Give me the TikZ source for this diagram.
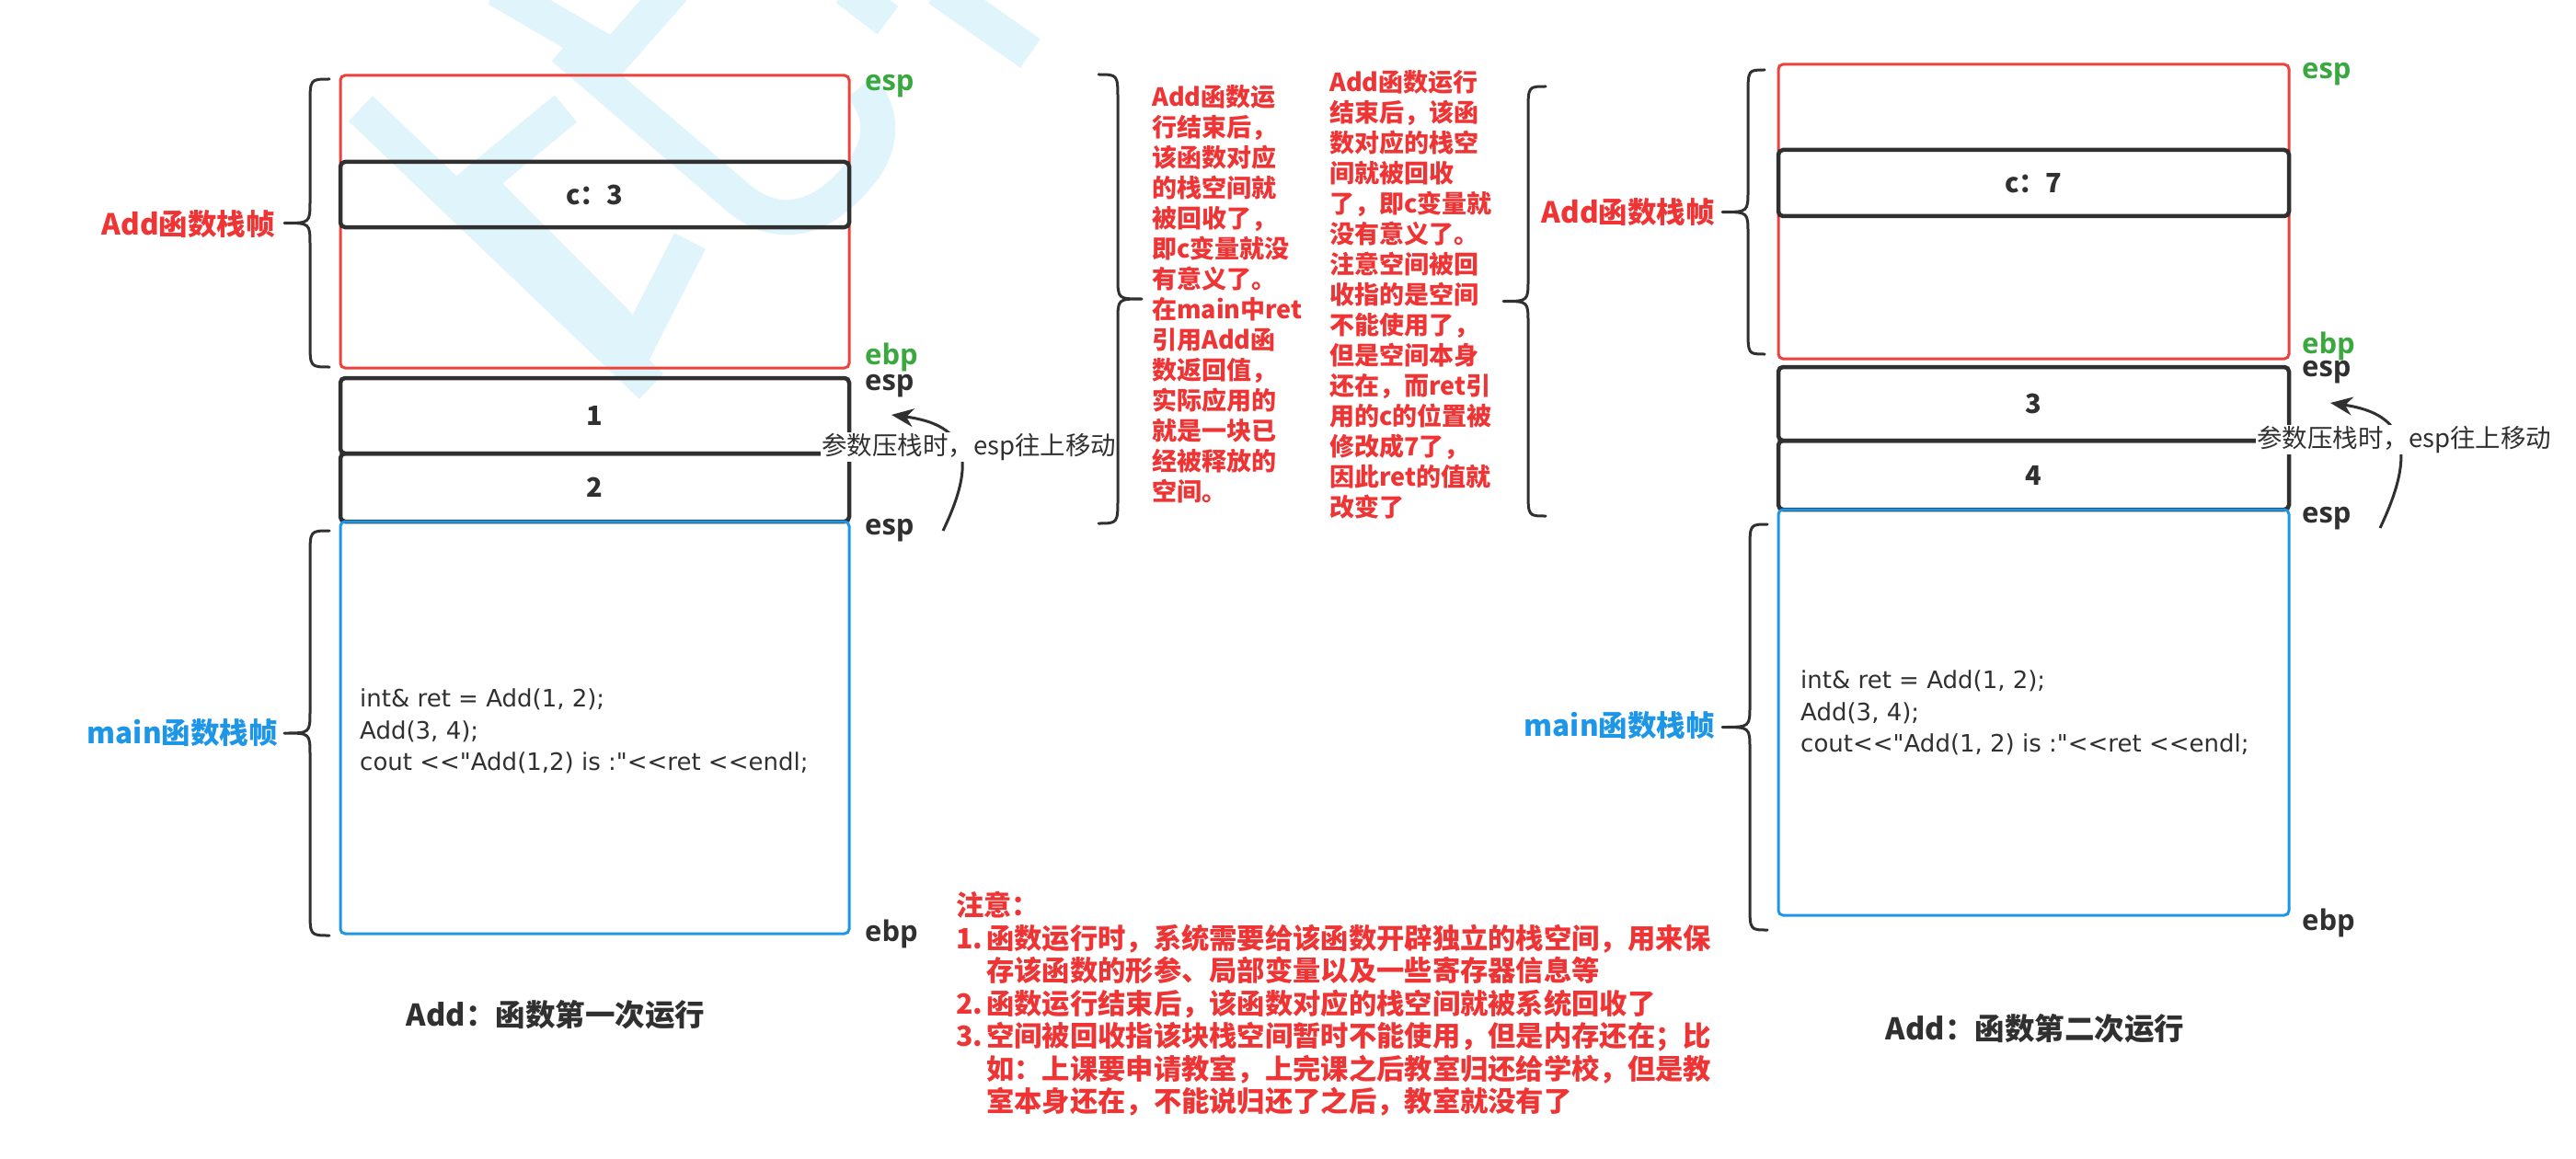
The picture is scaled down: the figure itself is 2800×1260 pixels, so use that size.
\documentclass[tikz,border=0pt]{standalone}
\usepackage{fontspec}
\setmainfont{Noto Sans CJK SC}
\newfontfamily\latinfont{Open Sans}[Ligatures=TeXOff]
\newfontfamily\codefont{DejaVu Sans}[Ligatures=TeXOff]
\usetikzlibrary{arrows.meta}
\definecolor{cred}{RGB}{238,52,52}
\definecolor{cframe}{RGB}{236,66,60}
\definecolor{cgreen}{RGB}{58,168,62}
\definecolor{cblue}{RGB}{30,150,232}
\definecolor{cdark}{RGB}{48,48,48}
\definecolor{cwm}{RGB}{224,244,251}
\newcommand\fsz[2]{\fontsize{#1}{#2}\selectfont}
\newcommand\mybrace[5]{%
  \pgfmathsetmacro\ym{(#4+#5)/2}%
  \draw[bracestyle] (#1,#4) .. controls (#2,#4) .. (#2,#4+28) -- (#2,\ym-24)
    .. controls (#2,\ym) .. (#3,\ym) .. controls (#2,\ym) .. (#2,\ym+24)
    -- (#2,#5-28) .. controls (#2,#5) .. (#1,#5);}
\tikzset{
  fbox/.style={draw, rounded corners=5pt, inner sep=0pt, outer sep=0pt},
  redframe/.style={fbox, draw=cframe, line width=3pt},
  blkbox/.style={fbox, draw=cdark, line width=4.5pt, text=cdark, font=\fsz{29}{34}\bfseries},
  blueframe/.style={fbox, draw=cblue, line width=3pt},
  framelab/.style={anchor=east, inner sep=0pt, font=\fsz{31.5}{34}\bfseries},
  reglab/.style={anchor=west, inner sep=0pt, font=\latinfont\fsz{31}{34}\bfseries},
  bracestyle/.style={draw=cdark, line width=3pt, line cap=round, line join=round},
  codetext/.style={anchor=north west, align=left, inner sep=0pt, text=cdark, font=\codefont\fsz{26}{34.5}},
  caption/.style={inner sep=0pt, text=cdark, font=\fsz{32.5}{38}\bfseries},
  rednote/.style={anchor=north west, align=left, inner sep=0pt, text=cred, font=\fsz{27}{33}\bfseries},
  movelab/.style={anchor=west, fill=white, inner sep=1pt, text=cdark, font=\fsz{27.5}{30}},
  movearrow/.style={draw=cdark, line width=3pt, -{Stealth[length=24pt,width=20pt]}},
  wm/.style={draw=cwm, line width=38pt}
}
\begin{document}
\begin{tikzpicture}[x=1pt,y=-1pt]
\useasboundingbox (0,0) rectangle (2800,1260);
\fill[white] (0,0) rectangle (2800,1260);
% watermark
\draw[wm] (392,118) -- (708,420);
\draw[wm] (540,-12) -- (667,62) -- (732,-12);
\draw[wm] (612,52) -- (800,213) .. controls (845,252) and (892,240) .. (932,192) .. controls (962,158) and (960,122) .. (936,94);
\draw[wm] (615,118) -- (518,198) -- (693,374) -- (750,262);
\draw[wm] (920,-12) -- (965,22);
\draw[wm] (1020,-12) -- (1120,58);

% ===== left diagram =====
\node[redframe, minimum width=553pt, minimum height=318pt] (lred) at (646.5,241) {};
\node[blkbox, minimum width=553pt, minimum height=71pt] (lc) at (646.5,211.5) {c：3};
\node[blkbox, minimum width=553pt, minimum height=82pt] (l1) at (646.5,452) {1};
\node[blkbox, minimum width=553pt, minimum height=74pt] (l2) at (646.5,530) {2};
\node[blueframe, minimum width=553pt, minimum height=448pt] (lmain) at (646.5,791) {};
\node[codetext] (lcode) at (391,749) {int\& ret = Add(1, 2);\\Add(3, 4);\\cout <<"Add(1,2) is :"<<ret <<endl;};

\node[reglab, text=cgreen] (lesp1) at (940,94) {esp};
\node[reglab, text=cgreen] (lebp1) at (940,388) {ebp};
\node[reglab, text=cdark] (lesp2) at (940,420) {esp};
\node[reglab, text=cdark] (lesp3) at (940,577) {esp};
\node[reglab, text=cdark] (lebp2) at (940,1015) {ebp};

\mybrace{358}{337}{309}{86}{399}
\mybrace{358}{337}{309}{577}{1017}
\node[framelab, text=cred] (laddlab) at (299,244) {Add函数栈帧};
\node[framelab, text=cblue] (lmainlab) at (302,797) {main函数栈帧};

\coordinate (la0) at (1025,577);
\coordinate (la1) at (969,451);
\draw[movearrow] (la0) .. controls (1062,500) and (1052,462) .. (la1);
\node[movelab] (lmove) at (892,486) {参数压栈时，esp往上移动};

\node[caption] (lcap) at (604,1103) {Add：函数第一次运行};

% ===== middle notes =====
\mybrace{1194}{1215}{1241}{81}{569}
\node[rednote] (note1) at (1252,92) {Add函数运\\行结束后，\\该函数对应\\的栈空间就\\被回收了，\\即c变量就没\\有意义了。\\在main中ret\\引用Add函\\数返回值，\\实际应用的\\就是一块已\\经被释放的\\空间。};
\node[rednote] (note2) at (1445,76) {Add函数运行\\结束后，该函\\数对应的栈空\\间就被回收\\了，即c变量就\\没有意义了。\\注意空间被回\\收指的是空间\\不能使用了，\\但是空间本身\\还在，而ret引\\用的c的位置被\\修改成7了，\\因此ret的值就\\改变了};
\mybrace{1680}{1661}{1634}{94}{561}

\node[rednote, font=\fsz{30.3}{35.5}\bfseries] (note3) at (1039,969) {注意：\\
\makebox[33pt][l]{1.}函数运行时，系统需要给该函数开辟独立的栈空间，用来保\\
\hspace*{33pt}存该函数的形参、局部变量以及一些寄存器信息等\\
\makebox[33pt][l]{2.}函数运行结束后，该函数对应的栈空间就被系统回收了\\
\makebox[33pt][l]{3.}空间被回收指该块栈空间暂时不能使用，但是内存还在；比\\
\hspace*{33pt}如：上课要申请教室，上完课之后教室归还给学校，但是教\\
\hspace*{33pt}室本身还在，不能说归还了之后，教室就没有了};

% ===== right diagram =====
\node[redframe, minimum width=555pt, minimum height=320pt] (rred) at (2210.5,230) {};
\node[blkbox, minimum width=555pt, minimum height=72pt] (rc) at (2210.5,199) {c：7};
\node[blkbox, minimum width=555pt, minimum height=80pt] (r3) at (2210.5,439) {3};
\node[blkbox, minimum width=555pt, minimum height=75pt] (r4) at (2210.5,516.5) {4};
\node[blueframe, minimum width=555pt, minimum height=441pt] (rmain) at (2210.5,774.5) {};
\node[codetext] (rcode) at (1957,729) {int\& ret = Add(1, 2);\\Add(3, 4);\\cout<<"Add(1, 2) is :"<<ret <<endl;};

\node[reglab, text=cgreen] (resp1) at (2502,81) {esp};
\node[reglab, text=cgreen] (rebp1) at (2502,376) {ebp};
\node[reglab, text=cdark] (resp2) at (2502,405) {esp};
\node[reglab, text=cdark] (resp3) at (2502,564) {esp};
\node[reglab, text=cdark] (rebp2) at (2502,1003) {ebp};

\mybrace{1918}{1900}{1872}{76}{385}
\mybrace{1921}{1902}{1872}{570}{1011}
\node[framelab, text=cred] (raddlab) at (1864,231) {Add函数栈帧};
\node[framelab, text=cblue] (rmainlab) at (1864,789) {main函数栈帧};

\coordinate (ra0) at (2587,574);
\coordinate (ra1) at (2533,438);
\draw[movearrow] (ra0) .. controls (2627,490) and (2615,450) .. (ra1);
\node[movelab] (rmove) at (2452,478) {参数压栈时，esp往上移动};

\node[caption] (rcap) at (2212,1118) {Add：函数第二次运行};
\end{tikzpicture}
\end{document}
